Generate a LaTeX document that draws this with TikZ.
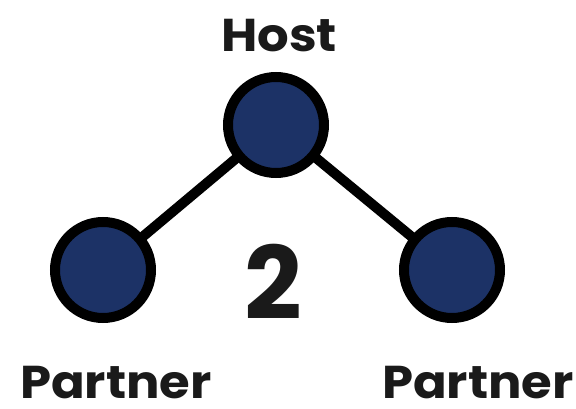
\documentclass[tikz,border=0pt]{standalone}
\usepackage{fontspec}
\setmainfont{Poppins}
\newfontfamily\lblfont[FakeStretch=1.08]{Poppins}
\definecolor{navy}{HTML}{1C3266}
\definecolor{ink}{HTML}{1A1A1A}
\begin{document}
\begin{tikzpicture}[x=1pt,y=-1pt,
  dot/.style={circle,draw=black,line width=10pt,fill=navy,minimum size=96pt,inner sep=0pt},
  link/.style={draw=black,line width=10pt},
  lbl/.style={text=ink,font=\lblfont\fontsize{46}{46}\selectfont\bfseries,inner sep=0pt,text depth=0pt,anchor=base}]
\useasboundingbox (0,0) rectangle (576,409);
\draw[link] (276,125) -- (103,270);
\draw[link] (276,125) -- (452,270);
\node[dot] (host) at (276,125) {};
\node[dot] (pl) at (103,270) {};
\node[dot] (pr) at (452,270) {};
\node[lbl] (th) at (279,52) {Host};
\node[lbl] (tl) at (116,398) {Partner};
\node[lbl] (tr) at (478,398) {Partner};
\node[text=ink,font=\fontsize{101}{101}\selectfont\bfseries,inner sep=0pt,anchor=base] (two) at (273,319) {2};
\end{tikzpicture}
\end{document}
